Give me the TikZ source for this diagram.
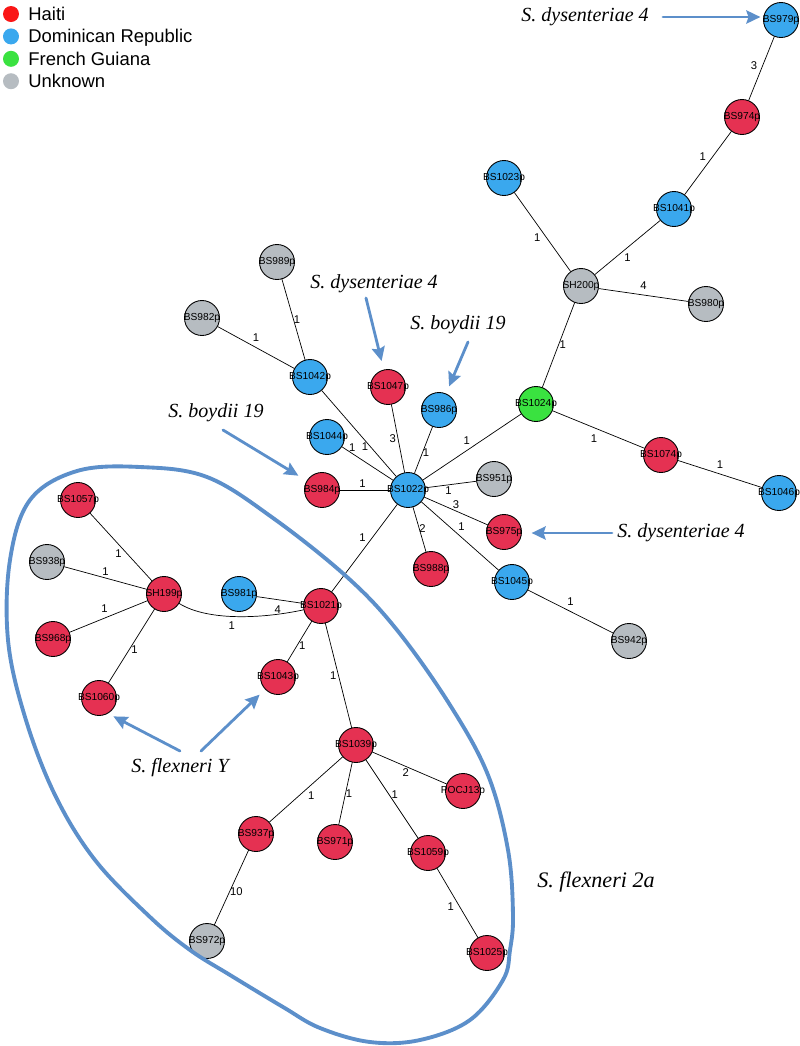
\documentclass[tikz,border=0pt]{standalone}
\usepackage{fontspec}
\setmainfont{Liberation Sans}
\newfontfamily\annfont{Liberation Serif}
\usetikzlibrary{arrows.meta}
\definecolor{htred}{RGB}{229,49,82}
\definecolor{lgred}{RGB}{250,22,22}
\definecolor{drblue}{RGB}{58,168,238}
\definecolor{fggreen}{RGB}{58,226,64}
\definecolor{ukgray}{RGB}{182,188,193}
\definecolor{annblue}{RGB}{92,143,202}
\newcommand{\iso}[1]{\makebox[0pt]{#1}}

\begin{document}
\begin{tikzpicture}[x=0.02cm, y=-0.02cm, line join=round, line cap=round,
  >={Stealth[length=8pt,width=7.5pt,inset=1.2pt]},
  iso/.style={circle, draw, line width=0.5pt, minimum size=0.7cm, inner sep=0pt, font=\fontsize{5.8}{6}\selectfont},
  ht/.style={iso, fill=htred}, dr/.style={iso, fill=drblue},
  fg/.style={iso, fill=fggreen}, uk/.style={iso, fill=ukgray},
  w/.style={font=\fontsize{6.4}{7}\selectfont, inner sep=1pt},
  ann/.style={font=\annfont\itshape\fontsize{11.4}{13}\selectfont, inner sep=0pt},
  arr/.style={->, annblue, line width=1.6pt},
  lg/.style={circle, minimum size=0.32cm, inner sep=0pt}]
  \useasboundingbox (0,0) rectangle (800,1046);

  % legend
  \foreach \c/\t [count=\i] in {lgred/Haiti, drblue/Dominican Republic, fggreen/French Guiana, ukgray/Unknown} {
    \node[lg, fill=\c] (lg\i) at (11,{14+22.4*(\i-1)}) {};
    \node[anchor=base west, inner sep=0pt, font=\fontsize{10.5}{12}\selectfont] (lt\i) at (28,{20.5+22.4*(\i-1)}) {\t};
  }

  % isolates
  \node[dr] (bs979) at (781,20) {\iso{BS979p}};
  \node[ht] (bs974) at (742,117) {\iso{BS974p}};
  \node[dr] (bs1023) at (504,178) {\iso{BS1023p}};
  \node[dr] (bs1041) at (674,209) {\iso{BS1041p}};
  \node[uk] (sh200) at (581,286) {\iso{SH200p}};
  \node[uk] (bs980) at (706,304) {\iso{BS980p}};
  \node[uk] (bs989) at (277,262) {\iso{BS989p}};
  \node[uk] (bs982) at (202,318) {\iso{BS982p}};
  \node[dr] (bs1042) at (310,377) {\iso{BS1042p}};
  \node[ht] (bs1047) at (388,387) {\iso{BS1047p}};
  \node[dr] (bs986) at (439,410) {\iso{BS986p}};
  \node[fg] (bs1024) at (536,404) {\iso{BS1024p}};
  \node[dr] (bs1044) at (327,437) {\iso{BS1044p}};
  \node[ht] (bs1074) at (661,455) {\iso{BS1074p}};
  \node[dr] (bs1046) at (779,493) {\iso{BS1046p}};
  \node[ht] (bs984) at (322,490) {\iso{BS984p}};
  \node[dr] (bs1022) at (408,490) {\iso{BS1022p}};
  \node[uk] (bs951) at (494,479) {\iso{BS951p}};
  \node[ht] (bs975) at (504,532) {\iso{BS975p}};
  \node[ht] (bs988) at (431,569) {\iso{BS988p}};
  \node[dr] (bs1045) at (512,582) {\iso{BS1045p}};
  \node[uk] (bs942) at (629,641) {\iso{BS942p}};
  \node[ht] (bs1057) at (78,500) {\iso{BS1057p}};
  \node[uk] (bs938) at (47,562) {\iso{BS938p}};
  \node[ht] (sh199) at (164,594) {\iso{SH199p}};
  \node[dr] (bs981) at (239,594) {\iso{BS981p}};
  \node[ht] (bs1021) at (321,606) {\iso{BS1021p}};
  \node[ht] (bs968) at (53,639) {\iso{BS968p}};
  \node[ht] (bs1043) at (278,677) {\iso{BS1043p}};
  \node[ht] (bs1060) at (99,698) {\iso{BS1060p}};
  \node[ht] (bs1039) at (356,745) {\iso{BS1039p}};
  \node[ht] (pocj13) at (463,791) {\iso{POCJ13p}};
  \node[ht] (bs937) at (256,834) {\iso{BS937p}};
  \node[ht] (bs971) at (335,842) {\iso{BS971p}};
  \node[ht] (bs1059) at (428,853) {\iso{BS1059p}};
  \node[uk] (bs972) at (207,941) {\iso{BS972p}};
  \node[ht] (bs1025) at (487,953) {\iso{BS1025p}};

  % links
  \draw (bs979) -- node[w, left=2pt, pos=.45] {3} (bs974);
  \draw (bs974) -- node[w, above left] {1} (bs1041);
  \draw (bs1041) -- node[w, below=2.5pt] {1} (sh200);
  \draw (bs1023) -- node[w, below left] {1} (sh200);
  \draw (sh200) -- node[w, above=2pt] {4} (bs980);
  \draw (sh200) -- node[w, right, inner sep=.5pt] {1} (bs1024);
  \draw (bs1024) -- node[w, above left] {1} (bs1022);
  \draw (bs1024) -- node[w, below=3pt, pos=.45] {1} (bs1074);
  \draw (bs1074) -- node[w, above=2pt] {1} (bs1046);
  \draw (bs989) -- node[w, right, inner sep=0pt] {1} (bs1042);
  \draw (bs982) -- node[w, above=2pt] {1} (bs1042);
  \draw (bs1042) -- node[w, left, pos=.65] {1} (bs1022);
  \draw (bs1044) -- node[w, above, pos=.2] {1} (bs1022);
  \draw (bs1047) -- node[w, left] {3} (bs1022);
  \draw (bs986) -- node[w, right, inner sep=0pt, pos=.55] {1} (bs1022);
  \draw (bs984) -- node[w, above, pos=.45] {1} (bs1022);
  \draw (bs1022) -- node[w, below, pos=.45] {1} (bs951);
  \draw (bs1022) -- node[w, above, pos=.5] {3} (bs975);
  \draw (bs1022) -- node[w, right, inner sep=0pt, pos=.47] {2} (bs988);
  \draw (bs1022) -- node[w, above right, pos=.45] {1} (bs1045);
  \draw (bs1045) -- node[w, above=2pt] {1} (bs942);
  \draw (bs1022) -- node[w, above left, pos=.45] {1} (bs1021);
  \draw (bs1057) -- node[w, left=2pt, pos=.6] {1} (sh199);
  \draw (bs938) -- node[w, above] {1} (sh199);
  \draw (bs968) -- node[w, above=2pt, pos=.45] {1} (sh199);
  \draw (bs1060) -- node[w, right, pos=.45] {1} (sh199);
  \draw (sh199) .. controls +(45,28) and +(-55,12) .. node[w, below=2pt, pos=.45] {1} (bs1021);
  \draw (bs981) -- node[w, below=2pt, pos=.45] {4} (bs1021);
  \draw (bs1021) -- node[w, right, pos=.6] {1} (bs1043);
  \draw (bs1021) -- node[w, left] {1} (bs1039);
  \draw (bs1039) -- node[w, below, pos=.45] {2} (pocj13);
  \draw (bs1039) -- node[w, below right] {1} (bs937);
  \draw (bs1039) -- node[w, right, inner sep=0pt] {1} (bs971);
  \draw (bs1039) -- node[w, right, pos=.45] {1} (bs1059);
  \draw (bs937) -- node[w, right, inner sep=0pt, pos=.55] {10} (bs972);
  \draw (bs1059) -- node[w, left=2pt, pos=.55] {1} (bs1025);

  % serotype notes
  \node[ann] (d1) at (585,17) {S. dysenteriae 4};
  \node[ann] (d2) at (374,284) {S. dysenteriae 4};
  \node[ann] (b1) at (458,325) {S. boydii 19};
  \node[ann] (b2) at (216,413) {S. boydii 19};
  \node[ann] (d3) at (681,533) {S. dysenteriae 4};
  \node[ann] (fy) at (180,768) {S. flexneri Y};
  \node[ann, font=\annfont\itshape\fontsize{12.6}{14}\selectfont] (f2a) at (596,882) {S. flexneri 2a};
  \coordinate (d1t) at (663,17);
  \coordinate (d2t) at (366,298);
  \coordinate (b1t) at (468,342);
  \coordinate (b2t) at (223,430);
  \coordinate (d3t) at (612,533);
  \coordinate (fyl) at (180,751);
  \coordinate (fyr) at (201,751);
  \draw[arr, shorten >=1.5pt] (d1t) -- (d1t -| bs979.west);
  \draw[arr, shorten >=5pt] (d2t) -- (bs1047);
  \draw[arr, shorten >=4.4pt] (b1t) -- (bs986);
  \draw[arr, shorten >=5.5pt] (b2t) -- (bs984);
  \draw[arr, shorten >=5.5pt] (d3t) -- (d3t -| bs975.east);
  \draw[arr, shorten >=3.5pt] (fyl) -- (bs1060.-60);
  \draw[arr, shorten >=4.3pt] (fyr) -- (bs1043);

  % flexneri 2a cluster
  \draw[annblue, line width=2.2pt] plot[smooth cycle, tension=.6] coordinates {
    (77,471) (140,467) (207,477) (273,518) (347,577) (397,630) (450,705)
    (488,775) (508,850) (513,915) (510,950) (503,980) (470,1020) (420,1040)
    (370,1042) (320,1028) (283,1007) (230,975) (190,950) (150,917) (95,860)
    (55,795) (25,717) (8,640) (10,560) (30,500)};
\end{tikzpicture}
\end{document}
